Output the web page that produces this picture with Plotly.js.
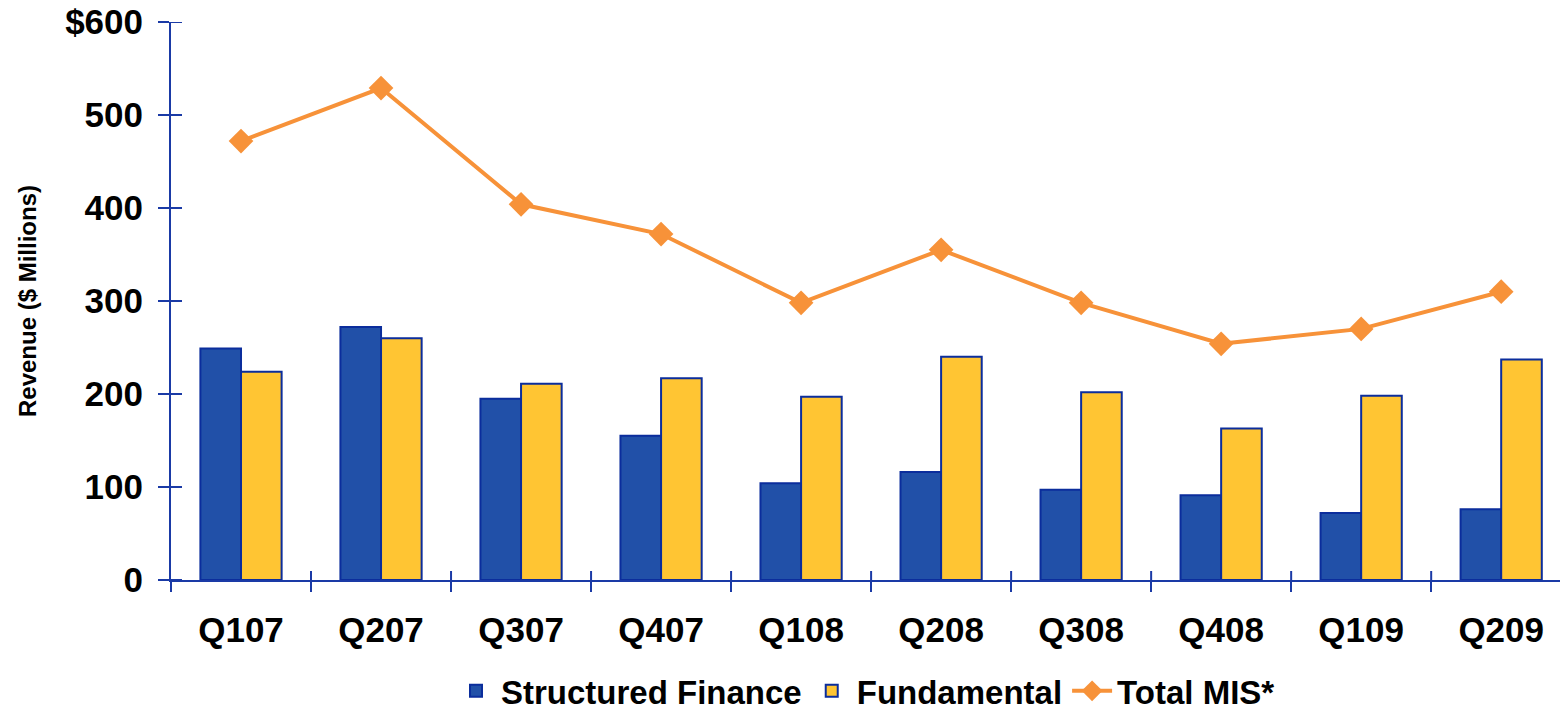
<!DOCTYPE html>
<html>
<head>
<meta charset="utf-8">
<script src="https://cdn.plot.ly/plotly-3.0.1.min.js"></script>
<style>
  html, body { margin: 0; padding: 0; background: #ffffff; overflow: hidden; }
  #chart { width: 1560px; height: 710px; }
</style>
</head>
<body>
<div id="chart"></div>
<script>
// Quarterly revenue, $ millions
const quarters = ["Q107", "Q207", "Q307", "Q407", "Q108", "Q208", "Q308", "Q408", "Q109", "Q209"];
const structuredFinance = [249, 272, 195, 155, 104, 116, 97, 91, 72, 76];
const fundamental = [224, 260, 211, 217, 197, 240, 202, 163, 198, 237];
const totalMIS = [472, 529, 404, 372, 298, 355, 298, 254, 270, 310];

const yTickVals = [0, 100, 200, 300, 400, 500, 600];
const yTickText = ["0", "100", "200", "300", "400", "500", "$600"];

const axisBlue = "#1a3aa6";
const font = "Liberation Sans, Arial, sans-serif";
const xRange = [-0.5, 9.42];

const traces = [
  {
    type: "bar", name: "Structured Finance", x: quarters, y: structuredFinance,
    marker: { color: "#2150a8", line: { color: "#0b2d9c", width: 2 } }
  },
  {
    type: "bar", name: "Fundamental", x: quarters, y: fundamental,
    marker: { color: "#ffc533", line: { color: "#0b2d9c", width: 2 } }
  },
  {
    type: "scatter", mode: "lines+markers", name: "Total MIS*", x: quarters, y: totalMIS,
    line: { color: "#f79239", width: 4 },
    marker: { symbol: "diamond", size: 19, color: "#f79239" }
  }
];

// Tick marks cross the axis lines: the outer half comes from the axes,
// the inner half is drawn here as short pixel-sized segments.
const innerTicks = [];
yTickVals.forEach(v => innerTicks.push({
  type: "line", xref: "paper", yref: "y", layer: "above",
  xsizemode: "pixel", xanchor: 0, x0: 0, x1: 11, y0: v, y1: v,
  line: { color: axisBlue, width: 2 }
}));
quarters.slice(1).forEach((q, i) => innerTicks.push({
  type: "line", xref: "x", yref: "paper", layer: "above",
  ysizemode: "pixel", yanchor: 0, y0: 0, y1: 9, x0: i + 0.5, x1: i + 0.5,
  line: { color: axisBlue, width: 2 }
}));

const layout = {
  width: 1560, height: 710,
  margin: { l: 171, r: 0, t: 22, b: 130, autoexpand: false },
  paper_bgcolor: "#ffffff", plot_bgcolor: "#ffffff",
  font: { family: font, color: "#000000" },
  barmode: "group", bargap: 0.42, bargroupgap: 0,
  showlegend: true,
  legend: {
    orientation: "h", x: 0.5, xanchor: "center",
    yref: "container", y: 0.027, yanchor: "middle",
    font: { family: font, size: 33, color: "#000000", weight: "bold" },
    itemwidth: 40, tracegroupgap: 0, traceorder: "normal"
  },
  xaxis: {
    type: "category", range: xRange,
    showline: true, linecolor: axisBlue, linewidth: 2,
    ticks: "outside", tickson: "boundaries", ticklen: 10, tickwidth: 2, tickcolor: axisBlue,
    ticklabelstandoff: 18,
    tickfont: { family: font, size: 35, color: "#000000", weight: "bold" },
    showgrid: false, zeroline: false
  },
  yaxis: {
    range: [0, 600],
    tickmode: "array", tickvals: yTickVals, ticktext: yTickText,
    showline: true, linecolor: axisBlue, linewidth: 2,
    ticks: "outside", ticklen: 11, tickwidth: 2, tickcolor: axisBlue,
    ticklabelstandoff: 8,
    tickfont: { family: font, size: 35, color: "#000000", weight: "bold" },
    showgrid: false, zeroline: false,
    title: { text: "Revenue ($ Millions)", font: { family: font, size: 24, color: "#000000", weight: "bold" }, standoff: 22 }
  },
  shapes: innerTicks
};

Plotly.newPlot("chart", traces, layout, { displayModeBar: false, staticPlot: true });
</script>
</body>
</html>
